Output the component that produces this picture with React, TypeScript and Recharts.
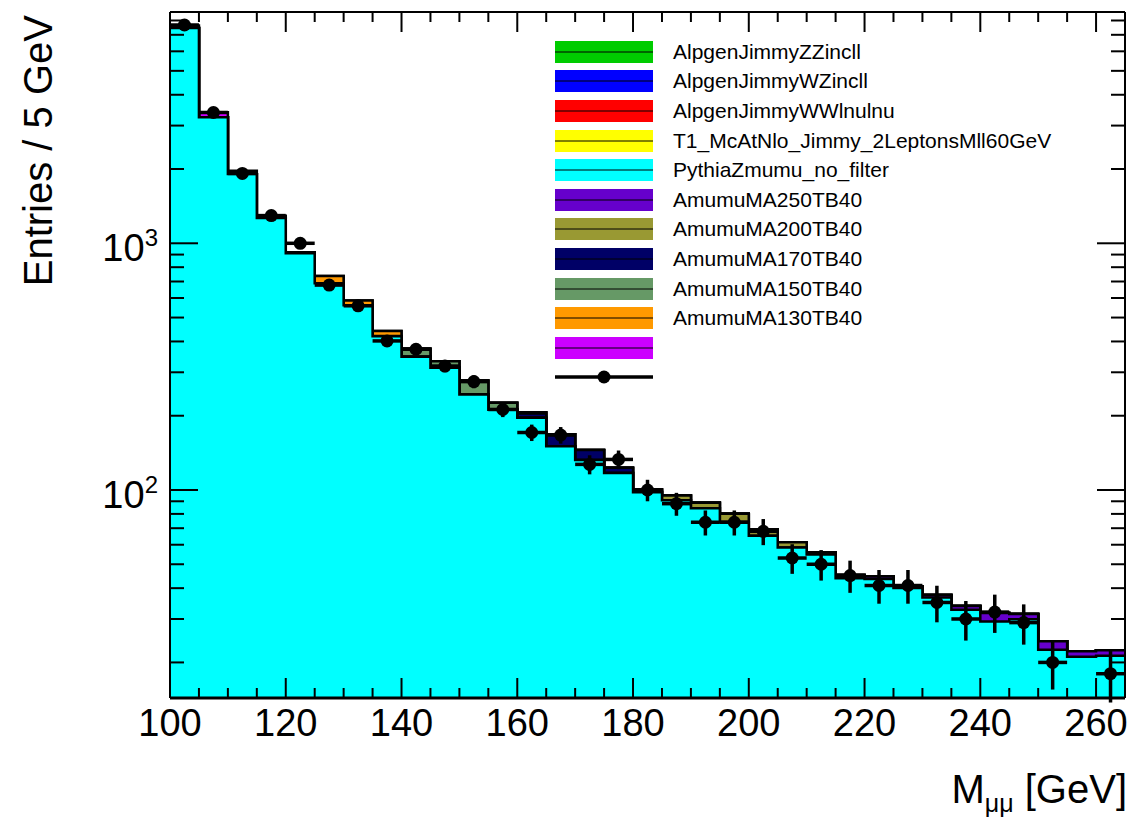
import {
  ComposedChart, Area, Scatter, ErrorBar, XAxis, YAxis, ReferenceLine, Legend,
} from "recharts";

const W = 1135;
const H = 819;
const LEFT = 170;
const RIGHT = 1125;
const TOP = 12;
const BOTTOM = 698;
const Y_MIN = 14.35;
const Y_MAX = 8660;
const FONT = '"Liberation Sans", Arial, Helvetica, sans-serif';

// low edges of the 5 GeV bins
const binLow = [
  100, 105, 110, 115, 120, 125, 130, 135, 140, 145, 150, 155, 160, 165, 170, 175, 180,
  185, 190, 195, 200, 205, 210, 215, 220, 225, 230, 235, 240, 245, 250, 255, 260,
];

// data, events per bin (bin 255-260 has no point)
const dataCounts = [
  7670, 3390, 1920, 1295, 1000, 677, 558, 402, 372, 318, 275, 212, 171, 167, 127, 133, 100,
  88, 74, 74, 68, 53, 50, 45, 41, 41, 35, 30, 32, 29, 20, null, 18,
];

// backgrounds (hidden under the Z)
const zz = [
  0.4, 0.4, 0.4, 0.3, 0.3, 0.3, 0.3, 0.3, 0.2, 0.2, 0.2, 0.2, 0.2, 0.2, 0.2, 0.2, 0.2,
  0.1, 0.1, 0.1, 0.1, 0.1, 0.1, 0.1, 0.1, 0.1, 0.1, 0.1, 0.1, 0.1, 0.1, 0.1, 0.1,
];
const wz = [
  0.5, 0.5, 0.4, 0.4, 0.4, 0.4, 0.3, 0.3, 0.3, 0.3, 0.3, 0.3, 0.2, 0.2, 0.2, 0.2, 0.2,
  0.2, 0.2, 0.2, 0.2, 0.2, 0.1, 0.1, 0.1, 0.1, 0.1, 0.1, 0.1, 0.1, 0.1, 0.1, 0.1,
];
const ww = [
  0.9, 0.9, 0.8, 0.8, 0.7, 0.7, 0.7, 0.6, 0.6, 0.6, 0.5, 0.5, 0.5, 0.5, 0.4, 0.4, 0.4,
  0.4, 0.4, 0.3, 0.3, 0.3, 0.3, 0.3, 0.3, 0.2, 0.2, 0.2, 0.2, 0.2, 0.2, 0.2, 0.2,
];
const ttbar = [
  3.0, 2.8, 2.6, 2.4, 2.3, 2.2, 2.1, 2.0, 1.9, 1.8, 1.7, 1.6, 1.5, 1.4, 1.4, 1.3, 1.2,
  1.2, 1.1, 1.1, 1.0, 1.0, 0.9, 0.9, 0.8, 0.8, 0.8, 0.7, 0.7, 0.7, 0.6, 0.6, 0.6,
];
const zmumu = [
  7455, 3236, 1905, 1261, 907, 685, 558, 417, 344, 310, 241, 209, 194, 148, 130, 115, 96,
  89, 82.5, 72.5, 63.7, 56.8, 53.4, 42.5, 42.3, 38.9, 35.5, 31.6, 28.2, 28.8, 21.5, 20.1, 20.3,
];

// signal samples
const a250 = [
  0, 0, 0, 0, 0, 0, 0, 0, 0, 0, 0, 0, 0, 0, 0, 0, 0,
  0, 0, 0, 0, 0, 0, 0.5, 1.0, 0.6, 0.8, 1.2, 2.4, 1.5, 1.9, 1.1, 1.1,
];
const a200 = [
  0, 0, 0, 0, 0, 0, 0, 0, 0, 0, 0, 0, 0, 0, 0, 0, 0.5,
  4, 4.5, 6, 4, 3, 1, 0.8, 0, 0, 0, 0, 0, 0, 0, 0, 0,
];
const a170 = [
  0, 0, 0, 0, 0, 0, 0, 0, 0, 0, 0, 1, 8, 18, 13, 6, 2,
  0, 0, 0, 0, 0, 0, 0, 0, 0, 0, 0, 0, 0, 0, 0, 0,
];
const a150 = [
  0, 0, 0, 0, 0, 0, 0, 1, 25, 20, 34, 13, 2, 0, 0, 0, 0,
  0, 0, 0, 0, 0, 0, 0, 0, 0, 0, 0, 0, 0, 0, 0, 0,
];
const a130 = [
  0, 0, 0, 10, 8, 49, 25, 20, 3, 0, 0, 0, 0, 0, 0, 0, 0,
  0, 0, 0, 0, 0, 0, 0, 0, 0, 0, 0, 0, 0, 0, 0, 0,
];
const aLow = [
  178, 156, 60, 18, 2, 0, 0, 0, 0, 0, 0, 0, 0, 0, 0, 0, 0,
  0, 0, 0, 0, 0, 0, 0, 0, 0, 0, 0, 0, 0, 0, 0, 0,
];

const xTicks = [
  100, 105, 110, 115, 120, 125, 130, 135, 140, 145, 150, 155, 160, 165, 170, 175, 180,
  185, 190, 195, 200, 205, 210, 215, 220, 225, 230, 235, 240, 245, 250, 255, 260, 265,
];
const yTicks = [
  20, 30, 40, 50, 60, 70, 80, 90, 100, 200, 300, 400, 500, 600, 700, 800, 900,
  1000, 2000, 3000, 4000, 5000, 6000, 7000, 8000,
];

// stack order, bottom to top (same as legend order)
const LAYERS = [
  { key: "zz", name: "AlpgenJimmyZZincll", color: "#00cc00", values: zz },
  { key: "wz", name: "AlpgenJimmyWZincll", color: "#0000ff", values: wz },
  { key: "ww", name: "AlpgenJimmyWWlnulnu", color: "#ff0000", values: ww },
  { key: "tt", name: "T1_McAtNlo_Jimmy_2LeptonsMll60GeV", color: "#ffff00", values: ttbar },
  { key: "z", name: "PythiaZmumu_no_filter", color: "#00ffff", values: zmumu },
  { key: "a250", name: "AmumuMA250TB40", color: "#6600cc", values: a250 },
  { key: "a200", name: "AmumuMA200TB40", color: "#999933", values: a200 },
  { key: "a170", name: "AmumuMA170TB40", color: "#000066", values: a170 },
  { key: "a150", name: "AmumuMA150TB40", color: "#669966", values: a150 },
  { key: "a130", name: "AmumuMA130TB40", color: "#ff9900", values: a130 },
  { key: "alow", name: "", color: "#cc00ff", values: aLow },
];

// cumulative sums at each bin edge; last edge repeats the last bin for the step
const table = [...binLow, 265].map((x, i) => {
  const b = Math.min(i, binLow.length - 1);
  const row: Record<string, number> = { x };
  let sum = 0;
  LAYERS.forEach((l) => {
    sum += l.values[b];
    row[l.key] = sum;
  });
  return row;
});

const points = binLow
  .map((lo, i) => ({ x: lo + 2.5, y: dataCounts[i], ex: 2.5, ey: dataCounts[i] ? Math.sqrt(dataCounts[i] as number) : 0 }))
  .filter((p) => p.y != null);

function XTick(props: any) {
  const { x, payload } = props;
  const v = payload.value;
  const major = v % 20 === 0;
  const len = major ? 20 : 10;
  return (
    <g>
      <line x1={x} x2={x} y1={BOTTOM} y2={BOTTOM - len} stroke="#000" strokeWidth={2} />
      <line x1={x} x2={x} y1={TOP} y2={TOP + len} stroke="#000" strokeWidth={2} />
      {major && (
        <text x={x} y={BOTTOM + 38} textAnchor="middle" fontSize={38} fontFamily={FONT} fill="#000">
          {v}
        </text>
      )}
    </g>
  );
}

function YTick(props: any) {
  const { y, payload } = props;
  const v = payload.value;
  const major = v === 100 || v === 1000;
  const len = major ? 28 : 14;
  return (
    <g>
      <line x1={LEFT} x2={LEFT + len} y1={y} y2={y} stroke="#000" strokeWidth={2} />
      <line x1={RIGHT} x2={RIGHT - len} y1={y} y2={y} stroke="#000" strokeWidth={2} />
      {major && (
        <text x={158} y={y + 18} textAnchor="end" fontFamily={FONT} fill="#000">
          <tspan fontSize={38}>10</tspan>
          <tspan fontSize={24} dy={-15}>{v === 100 ? "2" : "3"}</tspan>
        </text>
      )}
    </g>
  );
}

function XTitle(props: any) {
  const vb = props.viewBox;
  return (
    <text x={vb.x + vb.width + 2} y={vb.y + 105} textAnchor="end" fontFamily={FONT} fill="#000">
      <tspan fontSize={40}>M</tspan>
      <tspan fontSize={25} dy={9}>μμ</tspan>
      <tspan fontSize={40} dy={-9}> [GeV]</tspan>
    </text>
  );
}

function YTitle() {
  return (
    <text x={52} y={15} transform="rotate(-90, 52, 15)" textAnchor="end" fontSize={40} fontFamily={FONT} fill="#000">
      Entries / 5 GeV
    </text>
  );
}

function LegendBox() {
  const rowH = 29.6;
  return (
    <div style={{ fontFamily: FONT, fontSize: 21, color: "#000" }}>
      {LAYERS.map((l) => (
        <div key={l.key} style={{ display: "flex", alignItems: "center", height: rowH }}>
          <svg width={98} height={22} style={{ display: "block" }}>
            <rect x={0} y={0} width={98} height={22} fill={l.color} />
            <line x1={0} x2={98} y1={11} y2={11} stroke="#000" strokeWidth={1} />
          </svg>
          <span style={{ marginLeft: 20, whiteSpace: "nowrap" }}>{l.name}</span>
        </div>
      ))}
      <div style={{ display: "flex", alignItems: "center", height: rowH }}>
        <svg width={98} height={22} style={{ display: "block" }}>
          <line x1={0} x2={98} y1={11} y2={11} stroke="#000" strokeWidth={3.5} />
          <circle cx={49} cy={11} r={6.5} fill="#000" />
        </svg>
      </div>
    </div>
  );
}

const Dot = (p: any) => <circle cx={p.cx} cy={p.cy} r={6.5} fill="#000" />;

export default function App() {
  return (
    <div style={{ position: "absolute", left: 0, top: 0, width: W, height: H, background: "#fff" }}>
      <ComposedChart width={W} height={H} data={table} margin={{ top: TOP, right: W - RIGHT, left: 0, bottom: 0 }}>
        <XAxis
          dataKey="x"
          type="number"
          domain={[100, 265]}
          ticks={xTicks}
          interval={0}
          allowDataOverflow
          tickSize={0}
          tickMargin={0}
          tickLine={false}
          tick={<XTick />}
          height={H - BOTTOM}
          axisLine={{ stroke: "#000", strokeWidth: 3 }}
          label={<XTitle />}
        />
        <YAxis
          type="number"
          scale="log"
          domain={[Y_MIN, Y_MAX]}
          ticks={yTicks}
          interval={0}
          allowDataOverflow
          tickSize={0}
          tickMargin={0}
          tickLine={false}
          tick={<YTick />}
          width={LEFT}
          axisLine={{ stroke: "#000", strokeWidth: 2 }}
          label={<YTitle />}
        />
        {[...LAYERS].reverse().map((l) => (
          <Area
            key={l.key}
            type="stepAfter"
            dataKey={l.key}
            baseValue={Y_MIN}
            fill={l.color}
            fillOpacity={1}
            stroke="#000"
            strokeWidth={2.5}
            dot={false}
            activeDot={false}
            isAnimationActive={false}
          />
        ))}
        <ReferenceLine y={Y_MAX} stroke="#000" strokeWidth={2} ifOverflow="visible" />
        <ReferenceLine x={265} stroke="#000" strokeWidth={2} ifOverflow="visible" />
        <Scatter data={points} dataKey="y" shape={<Dot />} isAnimationActive={false}>
          <ErrorBar dataKey="ey" direction="y" width={0} stroke="#000" strokeWidth={3.5} isAnimationActive={false} />
          <ErrorBar dataKey="ex" direction="x" width={0} stroke="#000" strokeWidth={3.5} isAnimationActive={false} />
        </Scatter>
        <Legend
          layout="horizontal"
          verticalAlign="middle"
          align="center"
          content={<LegendBox />}
          wrapperStyle={{ left: 555, top: 37, width: 520, height: 360 }}
        />
      </ComposedChart>
    </div>
  );
}
